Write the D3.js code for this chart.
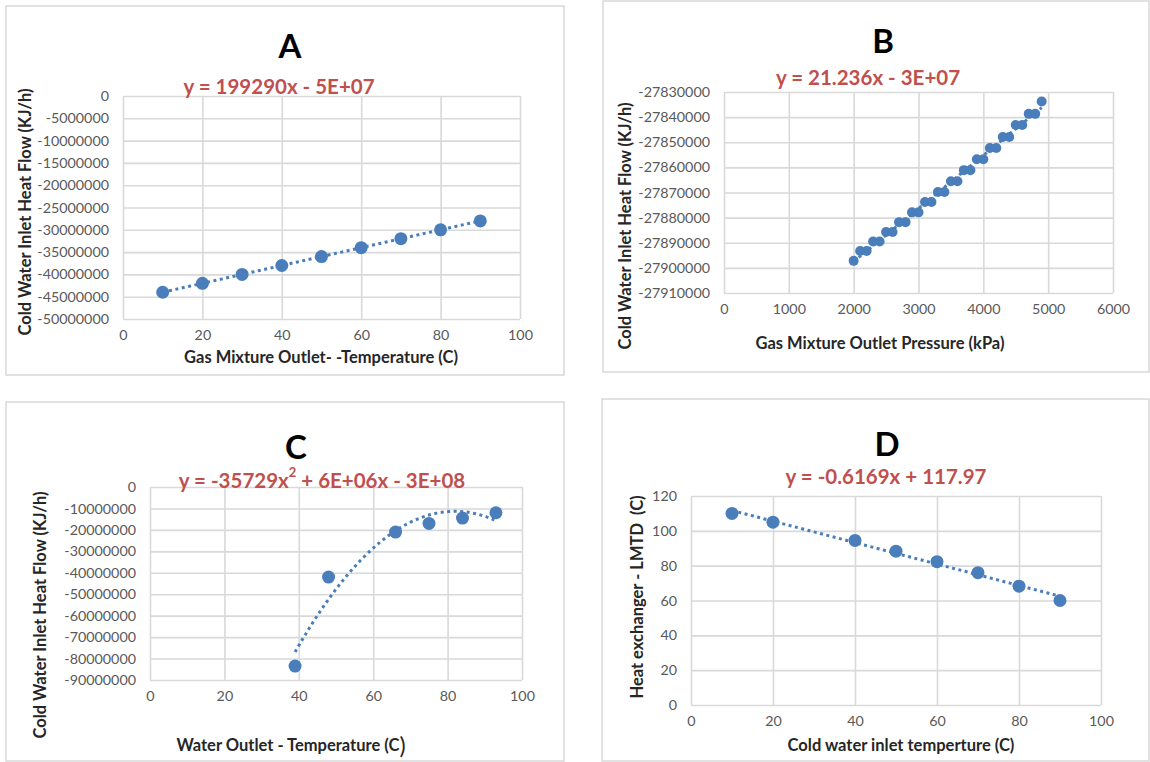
<!DOCTYPE html>
<html>
<head>
<meta charset="utf-8">
<script src="https://cdn.jsdelivr.net/npm/d3@7"></script>
<style>
  body { margin: 0; background: #fff; }
  svg text { font-family: Lato, "Open Sans", sans-serif; white-space: pre; }
</style>
</head>
<body>
<div id="chart"></div>
<script>
// Panel A: gas mixture outlet temperature vs cold water heat flow
var aTemp = [10, 20, 30, 40, 50, 60, 70, 80, 90];
var aHeat = [-44000000, -42000000, -40000000, -38000000, -36000000,
             -34000000, -32000000, -30000000, -28000000];
var aXTicks = [0, 20, 40, 60, 80, 100];
var aYTicks = [0, -5000000, -10000000, -15000000, -20000000, -25000000,
               -30000000, -35000000, -40000000, -45000000, -50000000];

// Panel B: gas mixture outlet pressure vs cold water heat flow
var bPressure = [2000, 2100, 2200, 2300, 2400, 2500, 2600, 2700, 2800, 2900,
                 3000, 3100, 3200, 3300, 3400, 3500, 3600, 3700, 3800, 3900,
                 4000, 4100, 4200, 4300, 4400, 4500, 4600, 4700, 4800, 4900];
var bHeat = [-27897200, -27893300, -27893300, -27889500, -27889500,
             -27885700, -27885700, -27881800, -27881800, -27877900,
             -27877900, -27873800, -27873800, -27869800, -27869800,
             -27865500, -27865500, -27861100, -27861100, -27856800,
             -27856800, -27852300, -27852300, -27847900, -27847900,
             -27843100, -27843100, -27838700, -27838700, -27833800];
var bXTicks = [0, 1000, 2000, 3000, 4000, 5000, 6000];
var bYTicks = [-27830000, -27840000, -27850000, -27860000, -27870000,
               -27880000, -27890000, -27900000, -27910000];

// Panel C: water outlet temperature vs cold water heat flow
var cTemp = [39, 48, 66, 75, 84, 93];
var cHeat = [-83500000, -42000000, -21000000, -17000000, -14500000, -12000000];
var cXTicks = [0, 20, 40, 60, 80, 100];
var cYTicks = [0, -10000000, -20000000, -30000000, -40000000, -50000000,
               -60000000, -70000000, -80000000, -90000000];

// Panel D: cold water inlet temperature vs LMTD
var dTemp = [10, 20, 40, 50, 60, 70, 80, 90];
var dLmtd = [110, 105, 94.5, 88.3, 82.3, 76, 68.2, 60];
var dXTicks = [0, 20, 40, 60, 80, 100];
var dYTicks = [0, 20, 40, 60, 80, 100, 120];

var blue = "#4a7ebb";
var red = "#c0504d";
var gridColor = "#d9d9d9";

var svg = d3.select("#chart")
  .append("svg")
    .attr("width", 1150)
    .attr("height", 762);

svg.append("rect")
  .attr("width", 1150).attr("height", 762)
  .attr("fill", "#fff");

// least squares line
function linearFit(xs, ys) {
  var mx = d3.mean(xs), my = d3.mean(ys);
  var sxy = 0, sxx = 0;
  for (var i = 0; i < xs.length; i++) {
    sxy += (xs[i] - mx) * (ys[i] - my);
    sxx += (xs[i] - mx) * (xs[i] - mx);
  }
  var b = sxy / sxx, a = my - b * mx;
  return function(x) { return a + b * x; };
}

// least squares parabola (normal equations, solved by Cramer)
function quadFit(xs, ys) {
  var s = [0, 0, 0, 0, 0], t = [0, 0, 0];
  for (var i = 0; i < xs.length; i++) {
    var p = 1;
    for (var k = 0; k < 5; k++) { s[k] += p; if (k < 3) t[k] += p * ys[i]; p *= xs[i]; }
  }
  var M = [[s[0], s[1], s[2]], [s[1], s[2], s[3]], [s[2], s[3], s[4]]];
  function det(m) {
    return m[0][0] * (m[1][1] * m[2][2] - m[1][2] * m[2][1])
         - m[0][1] * (m[1][0] * m[2][2] - m[1][2] * m[2][0])
         + m[0][2] * (m[1][0] * m[2][1] - m[1][1] * m[2][0]);
  }
  var D = det(M), c = [];
  for (var j = 0; j < 3; j++) {
    var m2 = M.map(function(row, r) { return row.map(function(v, col) { return col === j ? t[r] : v; }); });
    c.push(det(m2) / D);
  }
  return function(x) { return c[0] + c[1] * x + c[2] * x * x; };
}

var panels = [
  { title: "A", box: [6, 6, 558, 369], titleAt: [290, 45],
    plot: { left: 123, right: 520, top: 96, bottom: 319 },
    xDomain: [0, 100], yDomain: [-50000000, 0],
    xTicks: aXTicks, yTicks: aYTicks, xs: aTemp, ys: aHeat,
    fit: "linear", r: 6.5,
    eq: [["y = 199290x - 5E+07"]], eqAt: [279, 86],
    xLabel: [["Gas Mixture Outlet- -Temperature (C)"]], xLabelAt: [321, 357],
    yLabel: "Cold Water Inlet Heat Flow (KJ/h)", yLabelAt: [25, 212] },
  { title: "B", box: [603, 1, 546, 371], titleAt: [883, 40],
    plot: { left: 724, right: 1113, top: 92, bottom: 293 },
    xDomain: [0, 6000], yDomain: [-27910000, -27830000],
    xTicks: bXTicks, yTicks: bYTicks, xs: bPressure, ys: bHeat,
    fit: "linear", r: 5,
    eq: [["y = 21.236x - 3E+07"]], eqAt: [868, 77],
    xLabel: [["Gas Mixture Outlet Pressure (kPa)"]], xLabelAt: [880, 343],
    yLabel: "Cold Water Inlet Heat Flow (KJ/h)", yLabelAt: [625, 226] },
  { title: "C", box: [6, 402, 558, 359], titleAt: [296, 446],
    plot: { left: 150, right: 522, top: 487, bottom: 680 },
    xDomain: [0, 100], yDomain: [-90000000, 0],
    xTicks: cXTicks, yTicks: cYTicks, xs: cTemp, ys: cHeat,
    fit: "quad", r: 6.5,
    eq: [["y = -35729x"], ["2", "sup"], [" + 6E+06x - 3E+08", "base"]], eqAt: [322, 480],
    xLabel: [["Water Outlet - Temperature (C"], [")", "big"]], xLabelAt: [291, 745],
    yLabel: "Cold Water Inlet Heat Flow (KJ/h)", yLabelAt: [40, 615] },
  { title: "D", box: [602, 399, 547, 362], titleAt: [887, 443],
    plot: { left: 691, right: 1101, top: 496, bottom: 705 },
    xDomain: [0, 100], yDomain: [0, 120],
    xTicks: dXTicks, yTicks: dYTicks, xs: dTemp, ys: dLmtd,
    fit: "linear", r: 6.5,
    eq: [["y = -0.6169x + 117.97"]], eqAt: [886, 476],
    xLabel: [["Cold water inlet temperture (C)"]], xLabelAt: [901, 745],
    yLabel: "Heat exchanger - LMTD  (C)", yLabelAt: [637, 597] }
];

panels.forEach(function(p) {
  var g = svg.append("g");

  // panel frame
  g.append("rect")
    .attr("x", p.box[0]).attr("y", p.box[1])
    .attr("width", p.box[2]).attr("height", p.box[3])
    .attr("fill", "#fff")
    .attr("stroke", gridColor)
    .attr("stroke-width", 1.5);

  var x = d3.scaleLinear().domain(p.xDomain).range([p.plot.left, p.plot.right]);
  var y = d3.scaleLinear().domain(p.yDomain).range([p.plot.bottom, p.plot.top]);
  var w = p.plot.right - p.plot.left, h = p.plot.bottom - p.plot.top;
  var fmt = function(d) { return String(d); };

  // gridlines
  g.append("g")
    .attr("transform", "translate(0," + p.plot.bottom + ")")
    .call(d3.axisBottom(x).tickValues(p.xTicks).tickSize(-h).tickFormat(""))
    .call(function(a) { a.select(".domain").remove(); })
    .selectAll("line").attr("stroke", gridColor).attr("stroke-width", 1.6);
  g.append("g")
    .attr("transform", "translate(" + p.plot.left + ",0)")
    .call(d3.axisLeft(y).tickValues(p.yTicks).tickSize(-w).tickFormat(""))
    .call(function(a) { a.select(".domain").remove(); })
    .selectAll("line").attr("stroke", gridColor).attr("stroke-width", 1.6);

  // tick labels
  var xAxis = g.append("g")
    .attr("transform", "translate(0," + p.plot.bottom + ")")
    .call(d3.axisBottom(x).tickValues(p.xTicks).tickSize(0).tickPadding(11).tickFormat(fmt));
  var yAxis = g.append("g")
    .attr("transform", "translate(" + p.plot.left + ",0)")
    .call(d3.axisLeft(y).tickValues(p.yTicks).tickSize(0).tickPadding(14).tickFormat(fmt));
  [xAxis, yAxis].forEach(function(a) {
    a.select(".domain").remove();
    a.selectAll("text")
      .attr("fill", "#595959")
      .style("font-size", "14.3px")
      .style("font-family", "Lato, 'Open Sans', sans-serif");
  });

  // trendline
  var f = p.fit === "quad" ? quadFit(p.xs, p.ys) : linearFit(p.xs, p.ys);
  var x0 = d3.min(p.xs), x1 = d3.max(p.xs);
  var xsLine = d3.range(x0, x1, (x1 - x0) / 80).concat([x1]);
  g.append("path")
    .datum(xsLine)
    .attr("fill", "none")
    .attr("stroke", blue)
    .attr("stroke-width", 3)
    .attr("stroke-dasharray", "3,3.5")
    .attr("d", d3.line()
      .x(function(d) { return x(d); })
      .y(function(d) { return y(f(d)); }));

  // markers
  g.selectAll("circle.pt")
    .data(p.xs.map(function(d, i) { return [d, p.ys[i]]; }))
    .enter().append("circle")
      .attr("class", "pt")
      .attr("cx", function(d) { return x(d[0]); })
      .attr("cy", function(d) { return y(d[1]); })
      .attr("r", p.r)
      .attr("fill", blue);

  // panel letter
  g.append("text")
    .attr("x", p.titleAt[0]).attr("y", p.titleAt[1])
    .attr("text-anchor", "middle")
    .attr("dominant-baseline", "central")
    .style("font-size", "33px").style("font-weight", "bold")
    .attr("fill", "#000")
    .text(p.title);

  // trendline equation
  var eq = g.append("text")
    .attr("x", p.eqAt[0]).attr("y", p.eqAt[1])
    .attr("text-anchor", "middle")
    .attr("dominant-baseline", "central")
    .style("font-size", "20.5px").style("font-weight", "bold")
    .attr("fill", red);
  p.eq.forEach(function(part) {
    var t = eq.append("tspan").text(part[0]);
    if (part[1] === "sup") t.attr("dy", -8).style("font-size", "13px");
    if (part[1] === "base") t.attr("dy", 8);
  });

  // axis titles
  var xt = g.append("text")
    .attr("x", p.xLabelAt[0]).attr("y", p.xLabelAt[1])
    .attr("text-anchor", "middle")
    .attr("dominant-baseline", "central")
    .style("font-size", "16.5px").style("font-weight", "bold")
    .attr("fill", "#262626");
  p.xLabel.forEach(function(part) {
    var t = xt.append("tspan").text(part[0]);
    if (part[1] === "big") t.style("font-size", "23px").style("font-weight", "normal");
  });
  g.append("text")
    .attr("transform", "translate(" + p.yLabelAt[0] + "," + p.yLabelAt[1] + ") rotate(-90)")
    .attr("text-anchor", "middle")
    .attr("dominant-baseline", "central")
    .style("font-size", "16.5px").style("font-weight", "bold")
    .attr("fill", "#262626")
    .text(p.yLabel);
});
</script>
</body>
</html>
